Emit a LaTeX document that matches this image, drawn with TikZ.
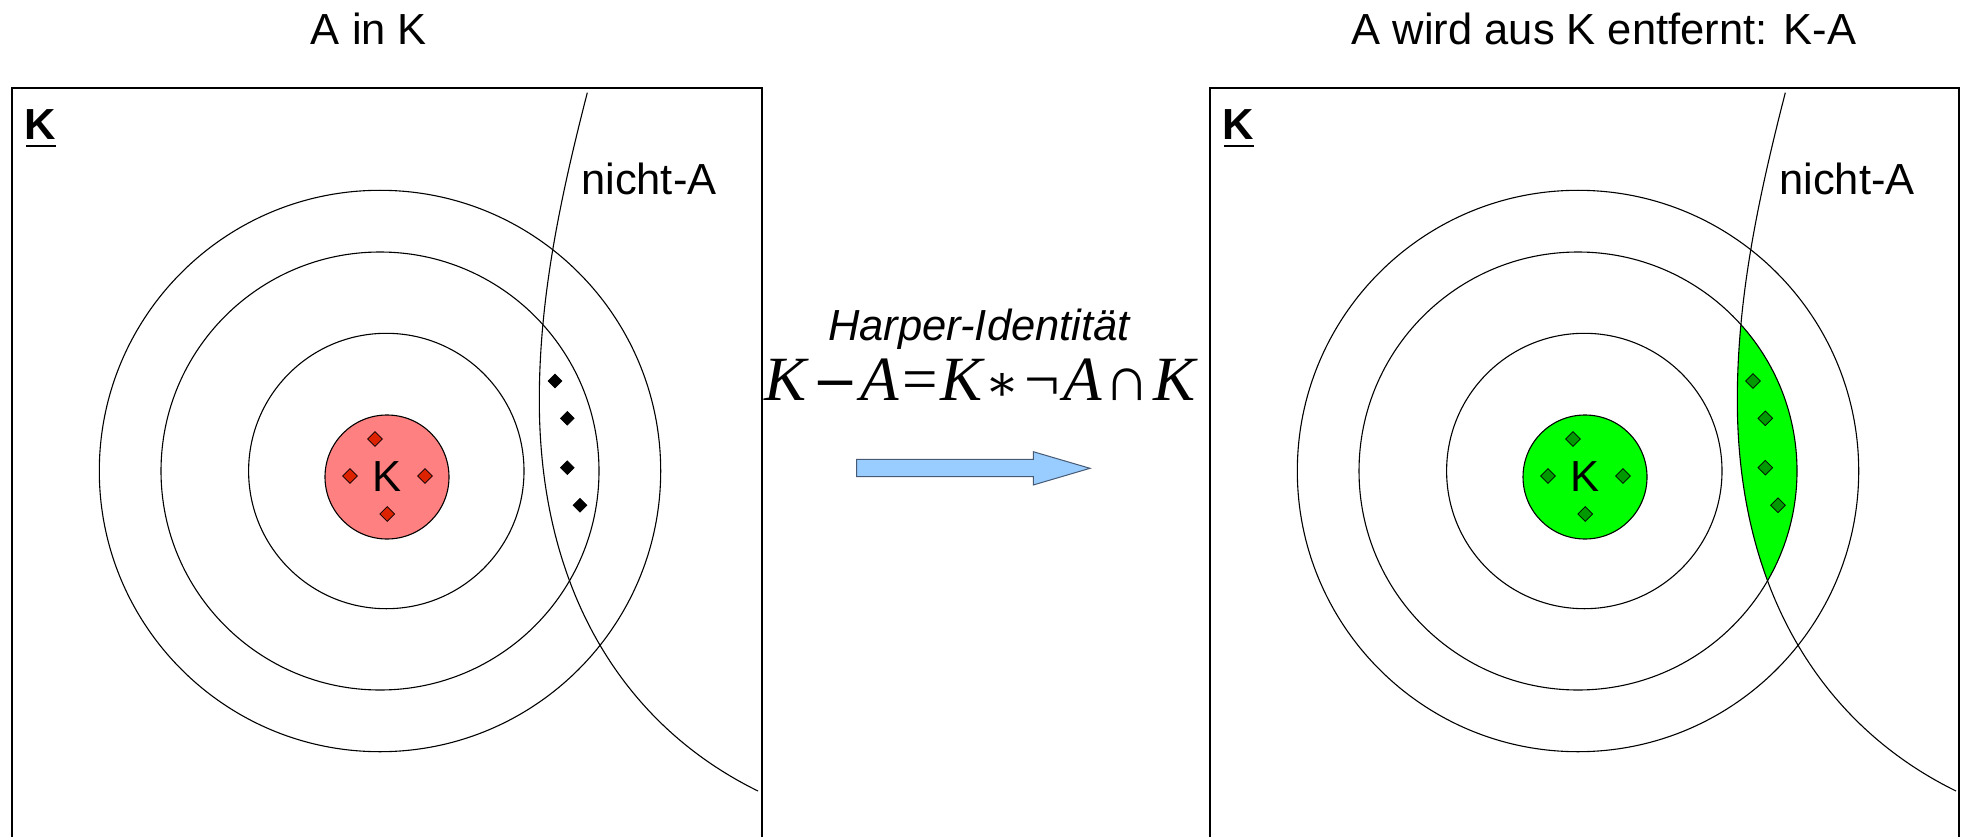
\documentclass[tikz,border=0pt]{standalone}
\usepackage{fontspec}
\setmainfont{Liberation Sans}
\newfontfamily\serifit{Liberation Serif}
\newfontfamily\symfont{DejaVu Serif}
\usetikzlibrary{shapes.geometric}
\definecolor{pinkcore}{RGB}{255,128,128}
\definecolor{reddia}{RGB}{221,34,0}
\definecolor{greencore}{RGB}{0,255,0}
\definecolor{greendia}{RGB}{0,153,0}
\definecolor{arrowfill}{RGB}{153,204,255}
\definecolor{arrowline}{RGB}{70,90,115}
\newcommand{\fl}[1]{{\fontsize{63}{70}\selectfont\serifit\itshape #1}}
\newcommand{\fs}[1]{{\kern3pt\fontsize{63}{70}\selectfont\serifit #1\kern3pt}}
\newcommand{\fm}{{\kern6pt\fontsize{55}{60}\selectfont\symfont −\kern2pt}}
\newcommand{\fa}{{\kern3pt\fontsize{50}{60}\selectfont\symfont ∗\kern2pt}}
\tikzset{
  lbl/.style={font=\fontsize{43.5}{50}\selectfont, inner sep=0pt},
  ring/.style={draw=black, line width=1.1pt},
  frame/.style={draw=black, line width=1.4pt},
  ulbar/.style={draw=black, line width=2.5pt},
  dia/.style={diamond, draw=black, line width=0.7pt, minimum size=15pt, inner sep=0pt},
  reddot/.style={dia, fill=reddia},
  greendot/.style={dia, fill=greendia},
  blackdot/.style={dia, fill=black, minimum size=14pt},
  core/.style={circle, draw=black, line width=1.1pt, minimum size=124pt, inner sep=0pt, font=\fontsize{43.5}{50}\selectfont},
  blockarrow/.style={draw=arrowline, fill=arrowfill, line width=1pt}
}
\begin{document}
\begin{tikzpicture}[x=1pt, y=-1pt]
\useasboundingbox (0,0) rectangle (1961,837);

% ---------------- left panel ----------------
\node[lbl, anchor=base] (titleL) at (369,45) {A in K};
\draw[frame] (12,837) -- (12,88) -- (762,88) -- (762,837);
\node[lbl, anchor=base west] (kL) at (24,140) {\bfseries K};
\draw[ulbar] ([shift={(2,6)}]kL.base west) -- ([shift={(0,6)}]kL.base east);
\draw[ring] (380,471) circle[radius=280.7pt];
\draw[ring] (380,471) circle[radius=219pt];
\draw[ring] (386.3,471) circle[radius=137.7pt];
\node[core, fill=pinkcore] (coreL) at (387,477) {K};
\node[reddot] (rdA) at (375,439) {};
\node[reddot] (rdB) at (350,476) {};
\node[reddot] (rdC) at (425,476) {};
\node[reddot] (rdD) at (387.3,514) {};
\draw[ring] (587.3,92.7) .. controls (559,202.7) and (539.3,300) .. (539.3,400) .. controls (539.3,590) and (623.3,725) .. (758,791);
\node[blackdot] (bdA) at (555,381) {};
\node[blackdot] (bdB) at (567.3,418.3) {};
\node[blackdot] (bdC) at (567.3,467.7) {};
\node[blackdot] (bdD) at (580,505.3) {};
\node[lbl, anchor=base west] (nichtL) at (581,195) {nicht-A};

% ---------------- middle ----------------
\node[lbl, anchor=base] (harper) at (979,340) {\itshape Harper-Identität};
\node[inner sep=0pt, anchor=base] (formula) at (980,400) {\fl{K}\fm\fl{A}\fs{=}\fl{K}\fa{}\fs{¬}\fl{A}\fs{∩}\fl{K}};
\draw[blockarrow] (856.7,459.3) -- (1033.3,459.3) -- (1033.3,451.7) -- (1090,468.3) -- (1033.3,485) -- (1033.3,476.7) -- (856.7,476.7) -- cycle;

% ---------------- right panel ----------------
\node[lbl, anchor=base] (titleR) at (1604,45) {A wird aus K entfernt: K-A};
\begin{scope}[xshift=1198pt]
\begin{scope}
\clip (587.3,92.7) .. controls (559,202.7) and (539.3,300) .. (539.3,400) .. controls (539.3,590) and (623.3,725) .. (758,791) -- (800,791) -- (800,92.7) -- cycle;
\fill[greencore] (380,471) circle[radius=219pt];
\end{scope}
\draw[frame] (12,837) -- (12,88) -- (761,88) -- (761,837);
\node[lbl, anchor=base west] (kR) at (24,140) {\bfseries K};
\draw[ulbar] ([shift={(2,6)}]kR.base west) -- ([shift={(0,6)}]kR.base east);
\draw[ring] (380,471) circle[radius=280.7pt];
\draw[ring] (380,471) circle[radius=219pt];
\draw[ring] (386.3,471) circle[radius=137.7pt];
\node[core, fill=greencore] (coreR) at (387,477) {K};
\node[greendot] (gdA) at (375,439) {};
\node[greendot] (gdB) at (350,476) {};
\node[greendot] (gdC) at (425,476) {};
\node[greendot] (gdD) at (387.3,514) {};
\draw[ring] (587.3,92.7) .. controls (559,202.7) and (539.3,300) .. (539.3,400) .. controls (539.3,590) and (623.3,725) .. (758,791);
\node[greendot] (gdE) at (555,381) {};
\node[greendot] (gdF) at (567.3,418.3) {};
\node[greendot] (gdG) at (567.3,467.7) {};
\node[greendot] (gdH) at (580,505.3) {};
\node[lbl, anchor=base west] (nichtR) at (581,195) {nicht-A};
\end{scope}
\end{tikzpicture}
\end{document}
